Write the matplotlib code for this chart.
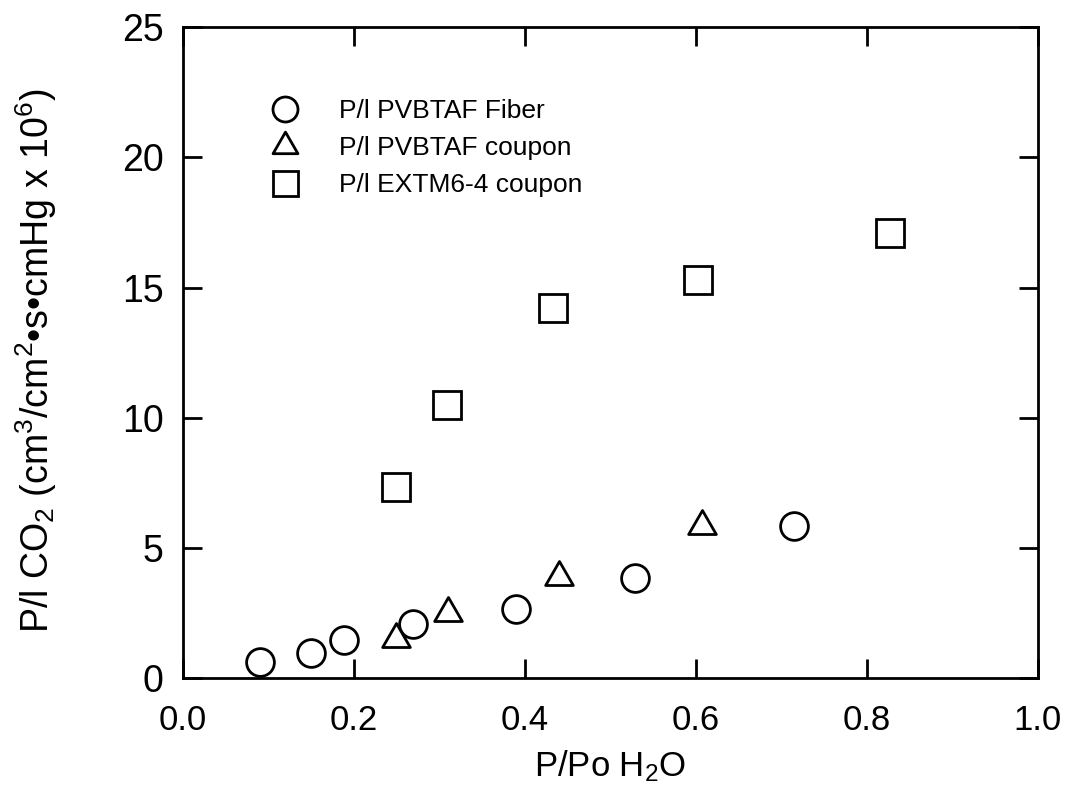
import matplotlib
matplotlib.use("Agg")
import matplotlib.pyplot as plt
from matplotlib.path import Path

plt.rcParams['font.family'] = ['Liberation Sans', 'DejaVu Sans']
plt.rcParams['mathtext.fontset'] = 'custom'
plt.rcParams['mathtext.rm'] = 'Liberation Sans'

# P/Po H2O vs CO2 permeance for three membranes
fiber_x = [0.09, 0.15, 0.188, 0.269, 0.39, 0.529, 0.715]
fiber_y = [0.6, 0.96, 1.46, 2.07, 2.65, 3.84, 5.84]

pvb_coupon_x = [0.249, 0.31, 0.44, 0.607]
pvb_coupon_y = [1.5, 2.5, 3.88, 5.84]

extm_x = [0.249, 0.309, 0.433, 0.602, 0.827]
extm_y = [7.33, 10.48, 14.2, 15.3, 17.1]

labels = ['P/l PVBTAF Fiber', 'P/l PVBTAF coupon', 'P/l EXTM6-4 coupon']

x_ticks = [0.0, 0.2, 0.4, 0.6, 0.8, 1.0]
y_ticks = [0, 5, 10, 15, 20, 25]

# equilateral triangle marker
tri = Path([(0, 0.577), (-0.5, -0.289), (0.5, -0.289), (0, 0.577)],
           [Path.MOVETO, Path.LINETO, Path.LINETO, Path.CLOSEPOLY])

fig = plt.figure(figsize=(10.70, 8.01), dpi=100)
ax = fig.add_axes([0.171, 0.1536, 0.799, 0.8124])

common = dict(linestyle='none', markerfacecolor='white', markeredgecolor='black',
              markeredgewidth=2.0)
ax.plot(fiber_x, fiber_y, marker='o', markersize=20, label=labels[0], **common)
ax.plot(pvb_coupon_x, pvb_coupon_y, marker=tri, markersize=23, label=labels[1], **common)
ax.plot(extm_x, extm_y, marker='s', markersize=20, label=labels[2], **common)

ax.set_xlim(0, 1.0)
ax.set_ylim(0, 25)
ax.set_xticks(x_ticks)
ax.set_yticks(y_ticks)
ax.set_xticklabels(['%.1f' % v for v in x_ticks])
ax.set_yticklabels([str(v) for v in y_ticks])

for s in ax.spines.values():
    s.set_linewidth(2.0)
ax.tick_params(direction='in', length=14, width=2, top=True, right=True)
ax.tick_params(axis='x', pad=19, labelsize=25)
ax.tick_params(axis='y', pad=14, labelsize=27)

ax.set_xlabel(r'P/Po H$\mathregular{_2}$O', fontsize=25, labelpad=8)
ax.set_ylabel(r'P/l CO$\mathregular{_2}$ (cm$\mathregular{^3}$/cm$\mathregular{^2}$'
              r'•s•cmHg x 10$\mathregular{^6}$)', fontsize=27)
ax.yaxis.set_label_coords(-0.145, 0.487)

ax.legend(loc='upper left', bbox_to_anchor=(0.102, 0.889), frameon=False,
          fontsize=19, markerscale=0.9, handlelength=1.1, handletextpad=1.5,
          labelspacing=0.48, borderaxespad=0, borderpad=0)

fig.savefig('out.png', dpi=100)
